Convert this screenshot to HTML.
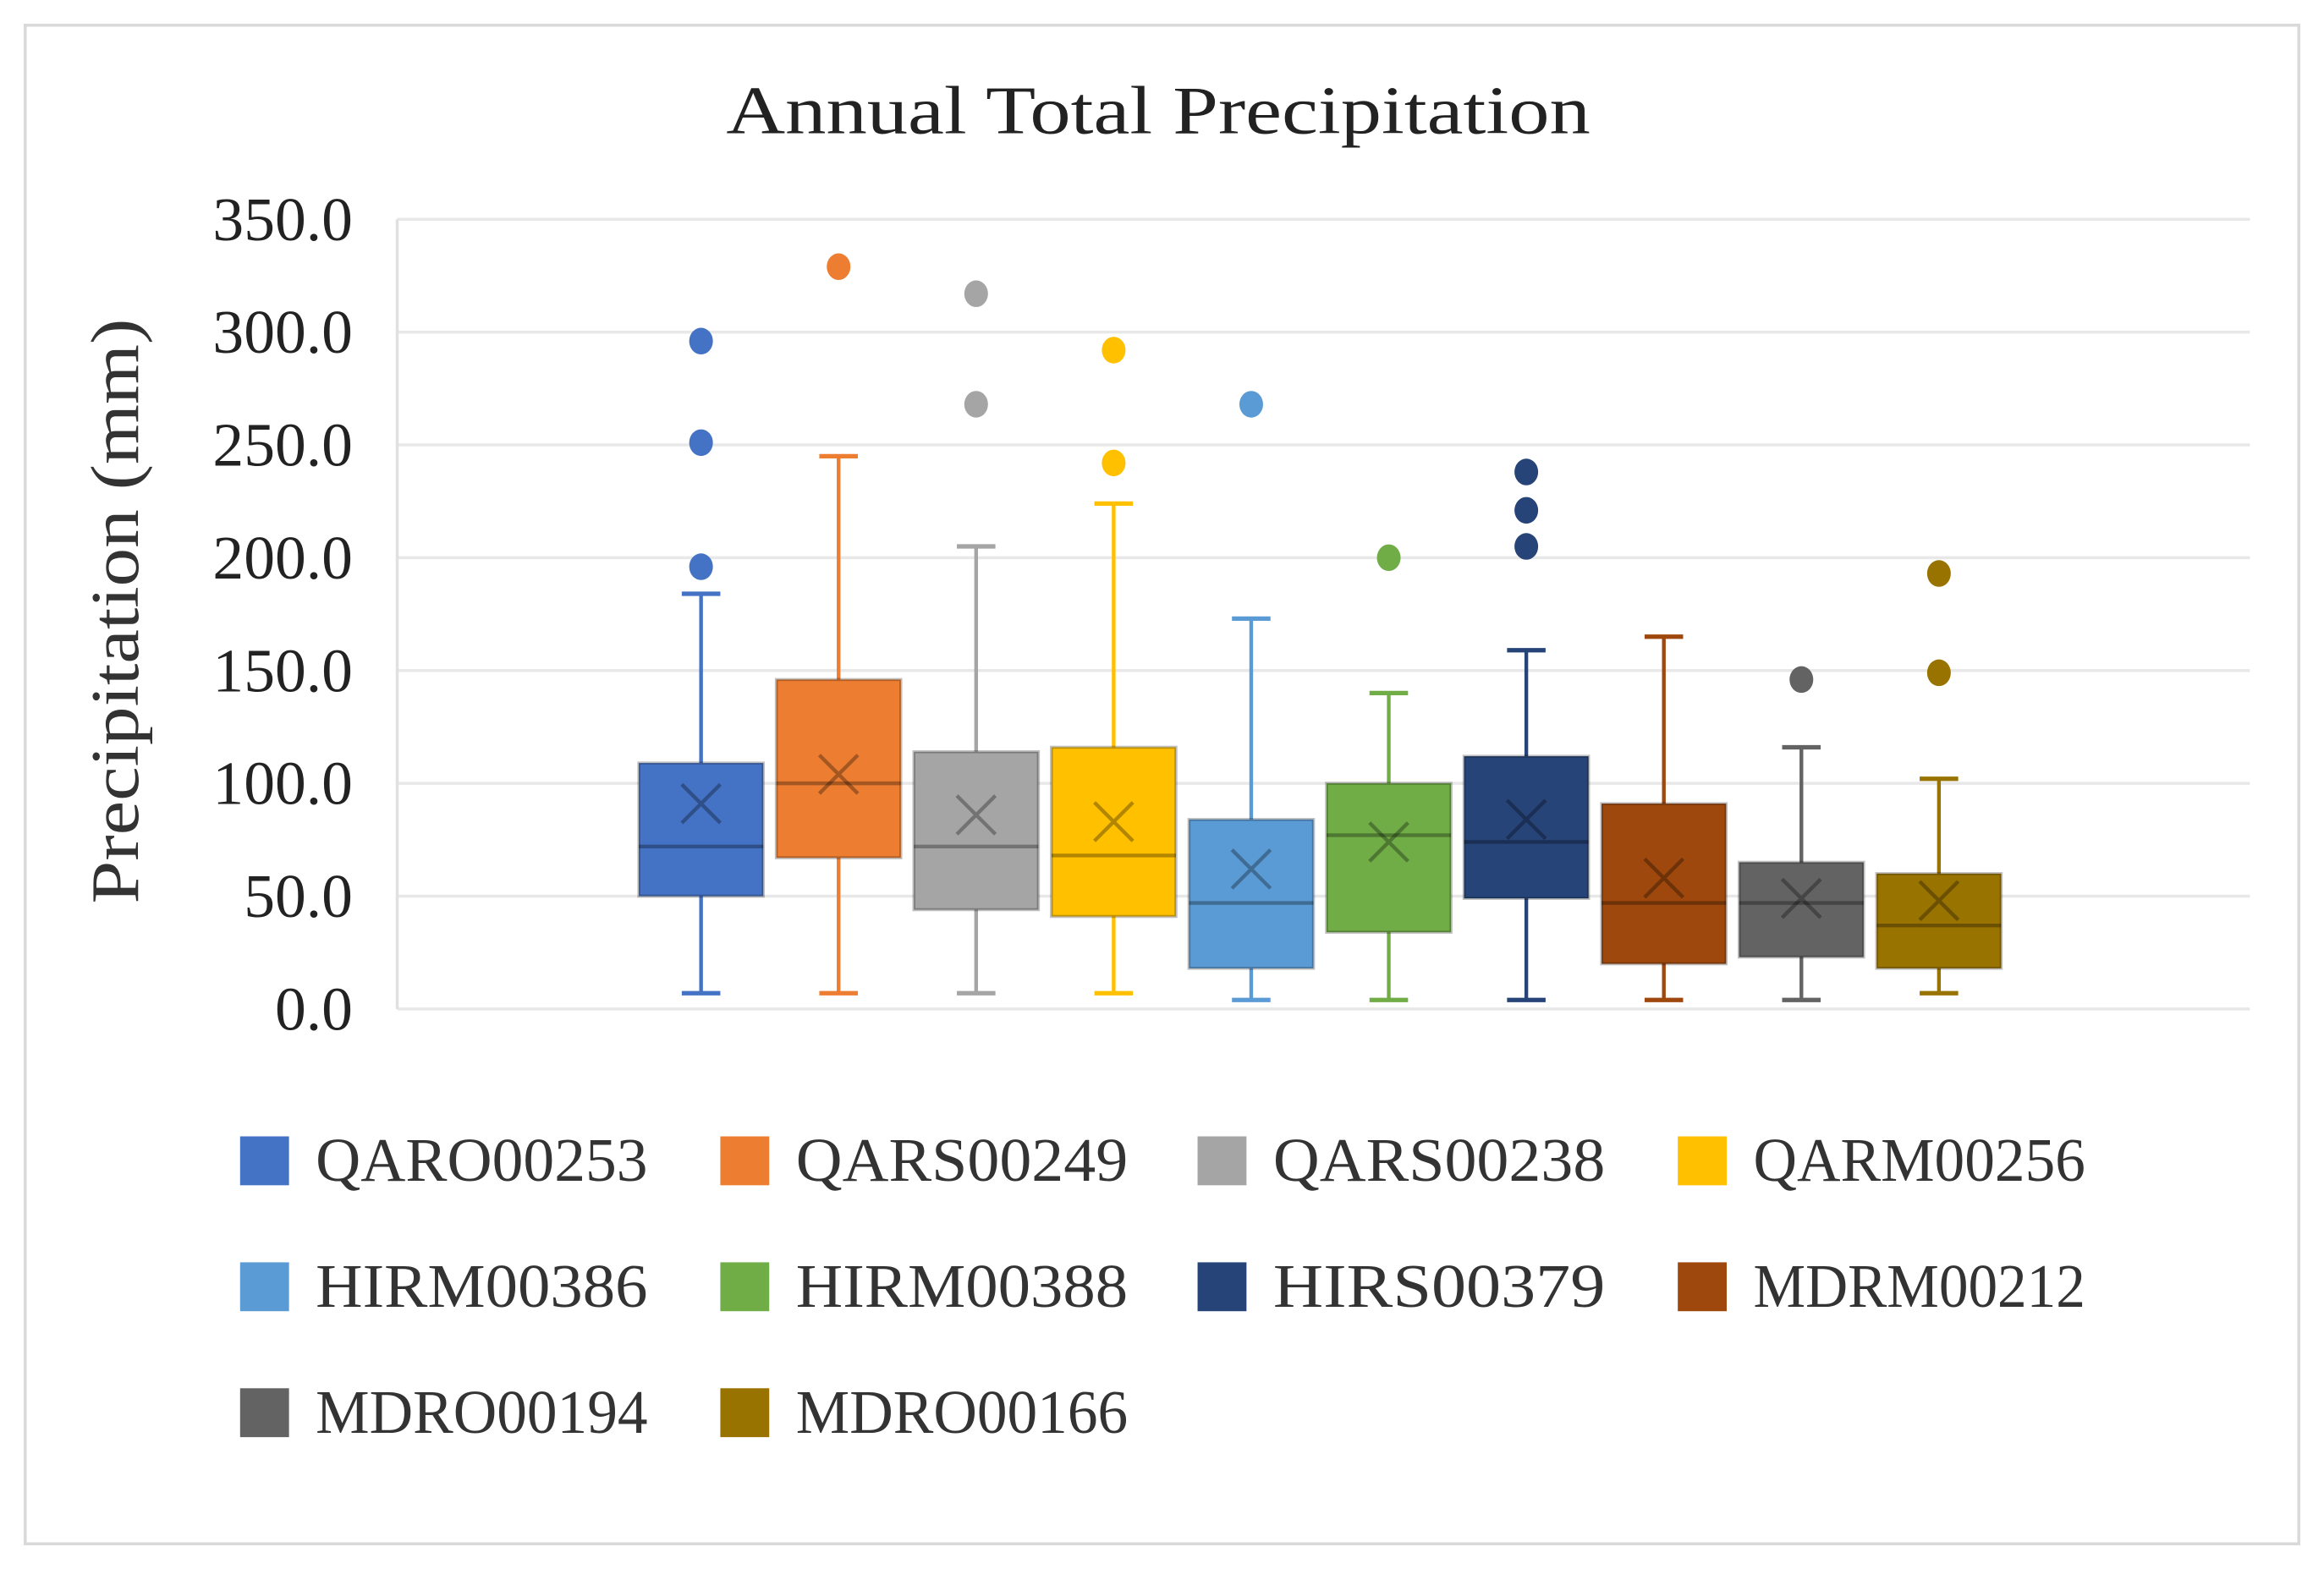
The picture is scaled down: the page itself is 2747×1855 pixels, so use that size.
<!DOCTYPE html>
<html><head><meta charset="utf-8"><style>
html,body{margin:0;padding:0;background:#fff;}
svg{display:block;font-family:"Liberation Serif",serif;}
</style></head><body>
<svg id="chart" width="2747" height="1855" viewBox="0 0 1568 1059" preserveAspectRatio="none" xmlns="http://www.w3.org/2000/svg">
<rect x="17" y="17" width="1534" height="1025" fill="#fff" stroke="#d9d9d9" stroke-width="2"/>
<text x="490" y="90" font-size="46" textLength="583" lengthAdjust="spacingAndGlyphs" fill="#222">Annual Total Precipitation</text>
<text transform="translate(93,610) rotate(-90)" font-size="46" textLength="395" lengthAdjust="spacingAndGlyphs" fill="#333">Precipitation (mm)</text>
<g id="grid"></g><g id="boxes"></g><g id="legend"></g>
</svg>
<script>
const categories=["QARO00253","QARS00249","QARS00238","QARM00256","HIRM00386","HIRM00388","HIRS00379","MDRM00212","MDRO00194","MDRO00166"];
const colors=["#4472C4","#ED7D31","#A5A5A5","#FFC000","#5B9BD5","#70AD47","#264478","#9E480E","#636363","#997300"];
const mins=[7,7,7,7,4,4,4,4,4,7];
const q1s=[50,67,44,41,18,34,49,20,23,18];
const medians=[72,100,72,68,47,77,74,47,47,37];
const q3s=[109,146,114,116,84,100,112,91,65,60];
const maxs=[184,245,205,224,173,140,159,165,116,102];
const means=[91,104,86,83,62,74,84,58,49,48];
const outliers=[[296,251,196],[329],[317,268],[292,242],[268],[200],[238,221,205],[],[146],[193,149]];
const yTicks=[0,50,100,150,200,250,300,350];
const tickLabels=["0.0","50.0","100.0","150.0","200.0","250.0","300.0","350.0"];

const NS="http://www.w3.org/2000/svg";
const plotL=268,plotR=1518,y0=681,y350=148;
function y(v){return y0-(v/350)*(y0-y350);}
function x(i){return 473+i*92.8;}
function mk(tag,attrs,parent){const e=document.createElementNS(NS,tag);for(const k in attrs)e.setAttribute(k,attrs[k]);parent.appendChild(e);return e;}
const grid=document.getElementById('grid');
yTicks.forEach((t,i)=>{
  const l=mk('line',{x1:plotL,x2:plotR,y1:y(t),y2:y(t),stroke:'#e8e8e8','stroke-width':2},grid);
  
  
  const tx=mk('text',{x:238,y:y(t)+14,'text-anchor':'end','font-size':42,fill:'#222'},grid);
  tx.textContent=tickLabels[i];
  
  
});
const ax=mk('line',{x1:plotL,x2:plotL,y1:y350,y2:y0,stroke:'#e0e0e0','stroke-width':2},grid);


const boxes=document.getElementById('boxes');
const bw=84,cap=26;
categories.forEach((c,i)=>{
  const g=mk('g',{},boxes);
  
  
  const cx=x(i),col=colors[i];
  mk('line',{x1:cx,x2:cx,y1:y(maxs[i]),y2:y(q3s[i]),stroke:col,'stroke-width':2.5},g);
  mk('line',{x1:cx,x2:cx,y1:y(q1s[i]),y2:y(mins[i]),stroke:col,'stroke-width':2.5},g);
  mk('line',{x1:cx-cap/2,x2:cx+cap/2,y1:y(maxs[i]),y2:y(maxs[i]),stroke:col,'stroke-width':3},g);
  mk('line',{x1:cx-cap/2,x2:cx+cap/2,y1:y(mins[i]),y2:y(mins[i]),stroke:col,'stroke-width':3},g);
  mk('rect',{x:cx-bw/2,y:y(q3s[i]),width:bw,height:y(q1s[i])-y(q3s[i]),fill:col,stroke:'rgba(0,0,0,0.25)','stroke-width':2},g);
  mk('line',{x1:cx-bw/2,x2:cx+bw/2,y1:y(medians[i]),y2:y(medians[i]),stroke:'rgba(0,0,0,0.3)','stroke-width':2.5},g);
  const m=y(means[i]),s=13;
  mk('path',{d:`M${cx-s} ${m-s}L${cx+s} ${m+s}M${cx+s} ${m-s}L${cx-s} ${m+s}`,stroke:'rgba(0,0,0,0.3)','stroke-width':2.5,fill:'none'},g);
  outliers[i].forEach(o=>{
    const d=mk('ellipse',{cx:cx,cy:y(o),rx:8,ry:9,fill:col},g);
    
    
  });
});
const legend=document.getElementById('legend');
const colX=[162,486,808,1132],rowY=[783,868,953];
categories.forEach((c,i)=>{
  const g=mk('g',{},legend);
  
  
  const lx=colX[i%4],ly=rowY[Math.floor(i/4)];
  mk('rect',{x:lx,y:ly-16,width:33,height:33,fill:colors[i]},g);
  const t=mk('text',{x:lx+51,y:ly+14,'font-size':42,fill:'#333',textLength:224,lengthAdjust:'spacingAndGlyphs'},g);
  t.textContent=c;
});
</script>
</body></html>
